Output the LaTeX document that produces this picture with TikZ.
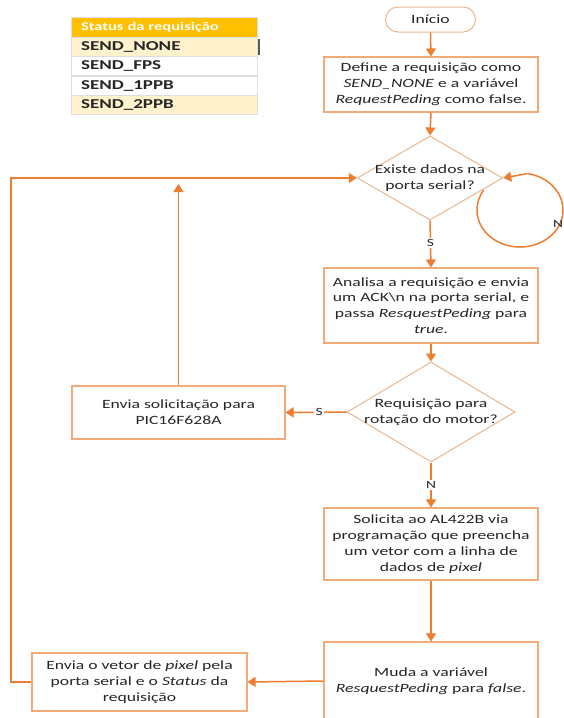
\documentclass[tikz,border=0pt]{standalone}
\usepackage{fontspec}
\setmainfont{Carlito}[FakeStretch=1.4]
\usetikzlibrary{shapes.geometric,arrows.meta}
\definecolor{arr}{RGB}{237,125,49}
\definecolor{bxc}{RGB}{242,170,120}
\definecolor{dmc}{RGB}{230,185,145}
\definecolor{txt}{RGB}{38,38,38}
\definecolor{gold}{RGB}{255,192,0}
\definecolor{beige}{RGB}{255,242,204}
\definecolor{gridc}{RGB}{222,222,222}
\begin{document}
\begin{tikzpicture}[x=1pt,y=-1pt,
  every node/.style={text=txt, font=\fontsize{12.6}{15.8}\selectfont},
  procbox/.style={draw=bxc, line width=1.1pt, rectangle, align=center, inner sep=0pt},
  decbox/.style={draw=dmc, line width=1pt, diamond, align=center},
  termbox/.style={draw=dmc, line width=1pt, rectangle, rounded corners=12.5pt, minimum width=90pt, minimum height=25pt, inner sep=0pt},
  flow/.style={draw=arr, line width=1.5pt, -{Triangle[width=10pt,length=8pt]}},
  flowline/.style={draw=arr, line width=1.5pt},
  lbl/.style={fill=white, inner sep=1.5pt, font=\fontsize{11}{13}\selectfont},
  cell/.style={rectangle, draw=gridc, line width=0.6pt, minimum width=186pt, minimum height=19.3pt, text width=166pt, inner xsep=10pt, inner ysep=0pt, align=left, font=\bfseries\fontsize{13.6}{14}\selectfont}
]
\useasboundingbox[fill=white] (0,0) rectangle (564,718);

% status table
\node[cell, fill=gold, text=white, minimum height=20pt, font=\bfseries\fontsize{11.8}{13}\selectfont] (th) at (164,27) {Status da requisição};
\node[cell, fill=beige] (r1) at (164,46.7) {SEND\_NONE};
\node[cell, fill=white] (r2) at (164,66) {SEND\_FPS};
\node[cell, fill=white] (r3) at (164,85.5) {SEND\_1PPB};
\node[cell, fill=beige] (r4) at (164,104.6) {SEND\_2PPB};
\draw[black!65, line width=1.2pt] (259,39) -- (259,55);

% flowchart nodes
\node[termbox] (start) at (430.5,19.5) {Início};
\node[procbox, minimum width=214pt, minimum height=55pt] (b1) at (431,84.5)
  {Define a requisição como\\ \textit{SEND\_NONE} e a variável\\ \textit{RequestPeding} como false.};
\node[decbox, aspect=1.73, inner sep=-2pt, minimum width=145pt, minimum height=84pt] (d1) at (430,178)
  {Existe dados na\\ porta serial?};
\node[procbox, minimum width=214pt, minimum height=75pt] (b2) at (431,305.5)
  {Analisa a requisição e envia\\ um ACK\textbackslash n na porta serial, e\\ passa \textit{ResquestPeding} para\\ \textit{true}.};
\node[decbox, aspect=1.68, inner sep=-4pt, minimum width=168pt, minimum height=100pt] (d2) at (431,412)
  {Requisição para\\ rotação do motor?};
\node[procbox, minimum width=213pt, minimum height=53pt] (b3) at (178.5,412.5)
  {Envia solicitação para\\ PIC16F628A};
\node[procbox, minimum width=214pt, minimum height=72pt] (b4) at (431,544)
  {Solicita ao AL422B via\\ programação que preencha\\ um vetor com a linha de\\ dados de \textit{pixel}};
\node[procbox, minimum width=214pt, minimum height=78pt] (b5) at (431,681)
  {Muda a variável\\ \textit{ResquestPeding} para \textit{false}.};
\node[procbox, minimum width=215pt, minimum height=58pt] (b6) at (139.5,682)
  {Envia o vetor de \textit{pixel} pela\\ porta serial e o \textit{Status} da\\ requisição};

% connectors
\draw[flow] (start.south) -- (b1.north);
\draw[flow] (b1.south) -- (d1.north);
\draw[flow] (d1.south) -- node[lbl, pos=0.48] (ls1) {S} (b2.north);
\draw[flow] (b2.south) -- (d2.north);
\draw[flow] (d2.west) -- node[lbl, pos=0.45] (ls2) {S} (b3.east);
\draw[flow] (d2.south) -- node[lbl, pos=0.5] (ln2) {N} (b4.north);
\draw[flow] (b4.south) -- (b5.north);
\draw[flow] (b5.west) -- (b6.east);
\coordinate (lc) at (11,682);
\draw[flow] (b6.west) -- (lc) |- (d1.west);
\coordinate (upend) at (178.5,184);
\draw[flow] (b3.north) -- (upend);

% self loop (N)
\coordinate (loopend) at ({520+43*cos(-80)},{210+37*sin(-80)});
\draw[flowline] plot[domain=212:-80, samples=80, smooth] ({520+43*cos(\x)},{210+37*sin(\x)});
\draw[flow] (loopend) -- (d1.east);
\node[lbl, fill=none, anchor=west, inner sep=0pt] (ln1) at (553,224) {N};
\end{tikzpicture}
\end{document}
